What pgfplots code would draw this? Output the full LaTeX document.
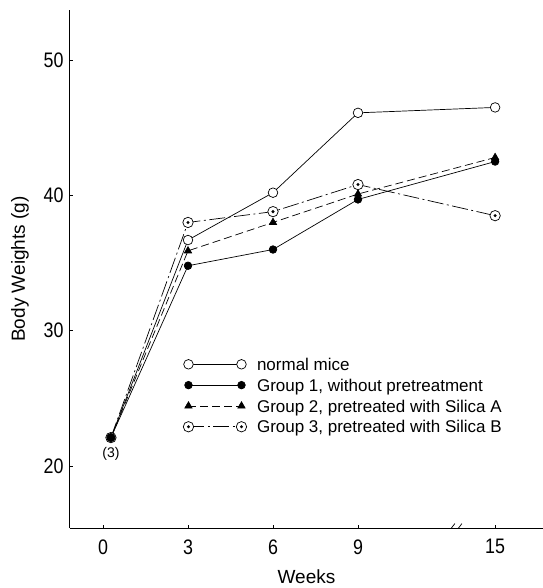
\documentclass[border=0pt]{standalone}
\usepackage{fontspec}
\setmainfont{Liberation Sans}
\newfontfamily\narrowfont[FakeStretch=0.85]{Liberation Sans}
\usepackage{pgfplots}
\pgfplotsset{compat=1.18}
\usetikzlibrary{calc}

% circle with a dot in it, for group 3
\pgfdeclareplotmark{odot}{%
  \pgfpathcircle{\pgfpointorigin}{\pgfplotmarksize}%
  \pgfsetfillcolor{white}\pgfusepath{fill,stroke}%
  \pgfpathcircle{\pgfpointorigin}{0.32\pgfplotmarksize}%
  \pgfsetfillcolor{black}\pgfusepath{fill}}

\begin{document}
\begin{tikzpicture}
\begin{axis}[
  name=ax, at={(0,0)}, anchor=south west,
  scale only axis, width=473pt, height=518pt,
  axis lines=left, axis line style={-, line width=1pt},
  xmin=-1.165, xmax=15.53, ymin=15.42, ymax=53.7,
  xtick={0,3,6,9,13.84}, xticklabels={0,3,6,9,15},
  ytick={20,30,40,50},
  tick align=inside, major tick length=3pt,
  tick style={black, line width=0.6pt},
  /pgf/number format/assume math mode=true,
  ticklabel style={font=\narrowfont\fontsize{21}{21}\selectfont},
  xticklabel style={yshift=-8pt},
  yticklabel style={xshift=-3pt},
  xlabel={Weeks}, ylabel={Body Weights (g)},
  xlabel style={font=\fontsize{19}{19}\selectfont, yshift=-8pt},
  ylabel style={font=\fontsize{19}{19}\selectfont, yshift=8pt},
  legend image code/.code={\draw[#1] plot coordinates {(0pt,0pt) (53pt,0pt)};},
  legend style={at={(0.232,0.336)}, anchor=north west, draw=none, fill=none,
    font=\fontsize{17}{17}\selectfont, row sep=4.5pt,
    nodes={inner sep=2pt, text depth=0pt}},
  legend cell align=left,
  every axis plot/.append style={black, line width=0.7pt},
]
% normal mice
\addplot[mark=*, mark options={solid, fill=white}, mark size=4.8pt]
  coordinates {(0.28,22.1) (3,36.7) (6,40.2) (9,46.1) (13.84,46.5)};
\addlegendentry{\hspace{8pt}normal mice}
% group 1
\addplot[mark=*, mark options={solid, fill=black}, mark size=3.8pt]
  coordinates {(0.28,22.1) (3,34.8) (6,36.0) (9,39.7) (13.84,42.5)};
\addlegendentry{\hspace{8pt}Group 1, without pretreatment}
% group 2
\addplot[dash pattern=on 8pt off 4pt, mark=triangle*, mark options={solid, fill=black}, mark size=4.2pt]
  coordinates {(0.28,22.1) (3,35.9) (6,38.0) (9,40.1) (13.84,42.8)};
\addlegendentry{\hspace{8pt}Group 2, pretreated with Silica A}
% group 3
\addplot[dash pattern=on 16pt off 3.5pt on 2pt off 3.5pt, mark=odot, mark options={solid}, mark size=5.2pt]
  coordinates {(0.28,22.1) (3,38.0) (6,38.8) (9,40.8) (13.84,38.5)};
\addlegendentry{\hspace{8pt}Group 3, pretreated with Silica B}
% the shared starting point is drawn as a filled dot
\addplot[forget plot, only marks, mark=*, mark size=4.2pt] coordinates {(0.28,22.1)};

\node[font=\fontsize{14}{14}\selectfont] at (axis cs:0.28,20.9) {(3)};
% axis break mark
\draw[line width=0.7pt] (axis cs:12.2,15.15) -- (axis cs:12.42,15.75);
\draw[line width=0.7pt] (axis cs:12.45,15.15) -- (axis cs:12.67,15.75);
\end{axis}
\pgfresetboundingbox
\path[use as bounding box] ($(ax.south west)+(-70pt,-60pt)$) rectangle ($(ax.north east)+(0pt,10pt)$);
\end{tikzpicture}
\end{document}
